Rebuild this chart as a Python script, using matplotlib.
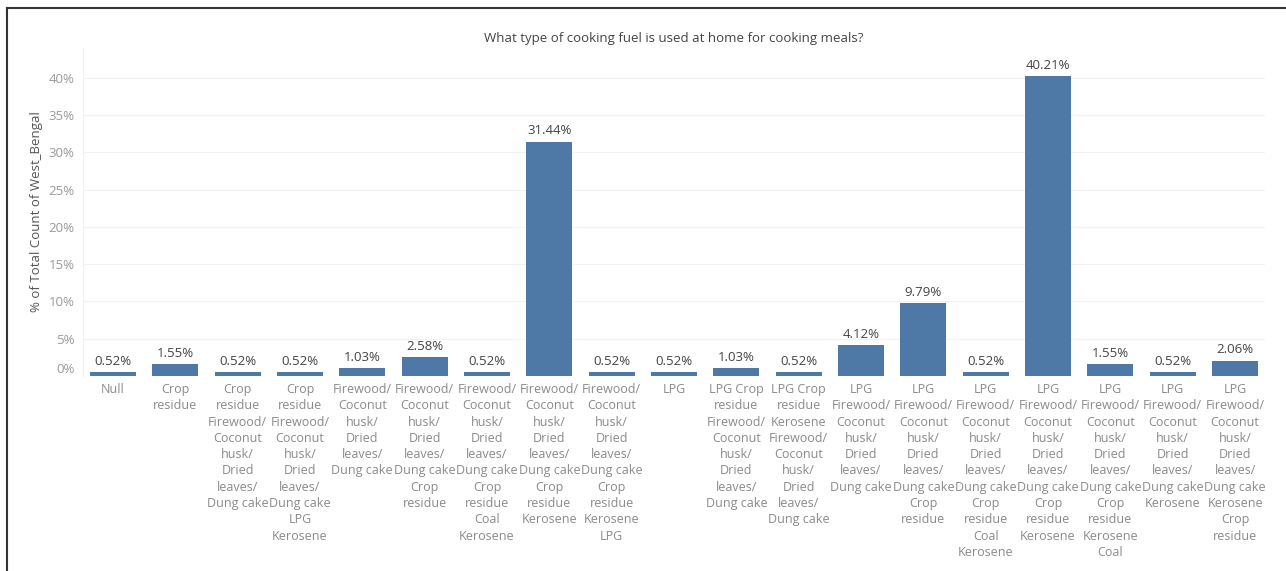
import matplotlib
matplotlib.use('Agg')
import matplotlib.pyplot as plt
from matplotlib.lines import Line2D
from matplotlib.ticker import FuncFormatter

plt.rcParams['font.family'] = ['Open Sans', 'DejaVu Sans']

fuel_labels = [
  'Null',
  'Crop\nresidue',
  'Crop\nresidue\nFirewood/\nCoconut\nhusk/\nDried\nleaves/\nDung cake',
  'Crop\nresidue\nFirewood/\nCoconut\nhusk/\nDried\nleaves/\nDung cake\nLPG\nKerosene',
  'Firewood/\nCoconut\nhusk/\nDried\nleaves/\nDung cake',
  'Firewood/\nCoconut\nhusk/\nDried\nleaves/\nDung cake\nCrop\nresidue',
  'Firewood/\nCoconut\nhusk/\nDried\nleaves/\nDung cake\nCrop\nresidue\nCoal\nKerosene',
  'Firewood/\nCoconut\nhusk/\nDried\nleaves/\nDung cake\nCrop\nresidue\nKerosene',
  'Firewood/\nCoconut\nhusk/\nDried\nleaves/\nDung cake\nCrop\nresidue\nKerosene\nLPG',
  'LPG',
  'LPG Crop\nresidue\nFirewood/\nCoconut\nhusk/\nDried\nleaves/\nDung cake',
  'LPG Crop\nresidue\nKerosene\nFirewood/\nCoconut\nhusk/\nDried\nleaves/\nDung cake',
  'LPG\nFirewood/\nCoconut\nhusk/\nDried\nleaves/\nDung cake',
  'LPG\nFirewood/\nCoconut\nhusk/\nDried\nleaves/\nDung cake\nCrop\nresidue',
  'LPG\nFirewood/\nCoconut\nhusk/\nDried\nleaves/\nDung cake\nCrop\nresidue\nCoal\nKerosene',
  'LPG\nFirewood/\nCoconut\nhusk/\nDried\nleaves/\nDung cake\nCrop\nresidue\nKerosene',
  'LPG\nFirewood/\nCoconut\nhusk/\nDried\nleaves/\nDung cake\nCrop\nresidue\nKerosene\nCoal',
  'LPG\nFirewood/\nCoconut\nhusk/\nDried\nleaves/\nDung cake\nKerosene',
  'LPG\nFirewood/\nCoconut\nhusk/\nDried\nleaves/\nDung cake\nKerosene\nCrop\nresidue',
]
pct_values = [0.52, 1.55, 0.52, 0.52, 1.03, 2.58, 0.52, 31.44, 0.52, 0.52,
              1.03, 0.52, 4.12, 9.79, 0.52, 40.21, 1.55, 0.52, 2.06]
y_ticks = [0, 5, 10, 15, 20, 25, 30, 35, 40]

fig = plt.figure(figsize=(12.86, 5.71), dpi=100)
ax = fig.add_axes([83/1286, 1 - 376/571, (1265-83)/1286, (376-48)/571])

x = list(range(len(pct_values)))
bars = ax.bar(x, pct_values, width=0.74, color='#4e79a7', zorder=3)
for xi, v in zip(x, pct_values):
  ax.annotate('%.2f%%' % v, (xi, v), xytext=(0, 3), textcoords='offset points',
              ha='center', va='bottom', fontsize=9.5, color='#444444')

ax.set_xlim(-0.48, len(pct_values) - 0.52)
ax.set_ylim(0, 44)
ax.set_yticks(y_ticks)
ax.yaxis.set_major_formatter(FuncFormatter(lambda v, p: '%d%%' % v))
ax.set_xticks(x)
ax.set_xticklabels(fuel_labels, fontsize=9, color='#8a8a8a', linespacing=1.33, va='top')
ax.tick_params(axis='both', length=0)
ax.tick_params(axis='y', labelsize=9.5, labelcolor='#9a9a9a', pad=6)
ax.tick_params(axis='x', pad=5)
ax.grid(axis='y', color='#f2f2f2', linewidth=0.8, zorder=0)
for s in ax.spines.values():
  s.set_visible(False)
ax.spines['left'].set_visible(True)
ax.spines['left'].set_color('#f0f0f0')

ylabs = ax.get_yticklabels()
ylabs[0].set_va('bottom')

ax.set_ylabel('% of Total Count of West_Bengal', fontsize=9.5, color='#555555', labelpad=4)
ax.set_title('What type of cooking fuel is used at home for cooking meals?',
             fontsize=9.5, color='#444444', pad=4)

# screenshot frame (left and top edges)
fig.add_artist(Line2D([6.5/1286, 6.5/1286], [0, 1 - 7.5/571], color='#333333', linewidth=1.5))
fig.add_artist(Line2D([6.5/1286, 1], [1 - 7.5/571, 1 - 7.5/571], color='#333333', linewidth=1.5))

fig.savefig('out.png', dpi=100)
